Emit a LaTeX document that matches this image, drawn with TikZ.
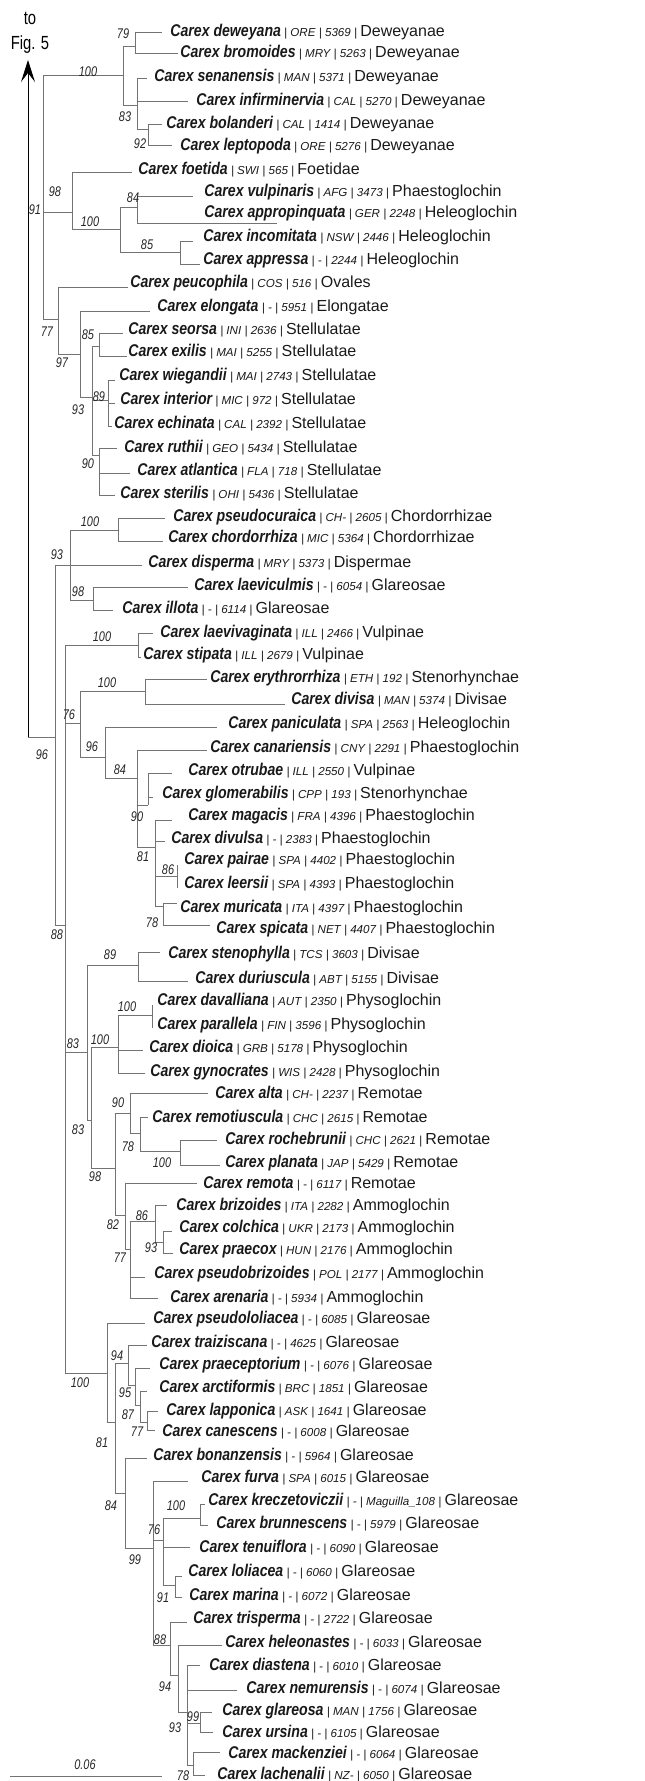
\documentclass[tikz,border=0pt]{standalone}
\usepackage{fontspec}
\setmainfont{Liberation Sans}
\newfontfamily\taxfont[FakeStretch=0.83]{Liberation Sans}
\newfontfamily\supfont[FakeStretch=0.78]{Liberation Sans}
\usetikzlibrary{arrows.meta}
\definecolor{brgray}{gray}{0.45}

\newcommand{\taxon}[4]{{\taxfont\fontsize{8.5}{9}\selectfont\bfseries\itshape Carex #1}{\fontsize{5.8}{6}\selectfont\itshape\ | #2 | #3 |\ }{\fontsize{8}{9}\selectfont #4}}

\tikzset{
  br/.style={draw=brgray, line width=0.5pt},
  tip/.style={anchor=base west, inner sep=0pt, text=black!90},
  bs/.style={font=\supfont\fontsize{7}{8}\selectfont\itshape, inner sep=0pt, text=black!85},
}

\begin{document}
\begin{tikzpicture}[x=0.5pt, y=-0.5pt]
    \useasboundingbox (0,0) rectangle (644,1781);

    % Link to Fig. 5
    \node[align=center, font=\supfont\fontsize{9.5}{12.5}\selectfont] (fig5) at (30,33) {to\\Fig. 5};
    \coordinate (rootbase) at (28,737);
    \coordinate (arrowtip) at (28,60);
    \draw[line width=0.5pt, -{Stealth[length=11pt, width=7pt, inset=4.5pt]}] (rootbase) -- (arrowtip);

    % Horizontal branches: x1/x2/y
    \foreach \a/\b/\y in {
        43/123/76, 123/135/47, 135/162/33, 135/178/54, 123/137/106, 137/147/79, 137/188/102, 137/148/130, 148/162/125, 148/172/146,
        43/72/213, 72/132/173, 72/120/230, 120/137/208, 137/193/197, 137/277/224, 120/180/253, 180/193/242, 180/200/265,
        43/58/320, 58/128/288, 58/80/355, 80/150/312, 80/92/397, 92/99/347, 99/123/334, 99/127/357, 92/108/400,
        108/115/380, 108/115/403, 108/112/426, 92/99/455, 99/117/448, 99/130/473, 99/115/495,
        28/55/737, 55/142/565, 70/118/530, 118/165/518, 118/163/541, 70/93/600, 93/188/587, 93/113/610,
        55/65/925, 65/138/645, 138/153/633, 138/141/657, 65/80/723, 80/145/691, 145/207/679, 145/285/704,
        80/105/757, 105/217/727, 105/137/778, 137/207/750, 137/148/805, 148/172/773, 148/153/797,
        137/155/847, 155/172/820, 155/165/841, 155/177/876, 155/163/906, 163/177/903, 163/210/925,
        65/87/1052, 87/138/965, 138/160/952, 138/188/981, 87/91/1120, 91/118/1047, 118/152/1015, 118/143/1050, 118/145/1073,
        91/115/1168, 115/130/1113, 130/208/1093, 130/140/1133, 140/148/1117, 140/180/1151, 180/217/1140, 180/220/1165,
        115/125/1215, 125/197/1183, 125/130/1249, 130/155/1221, 155/167/1205, 155/163/1242, 163/172/1231, 163/173/1253,
        130/145/1277, 130/158/1298,
        65/107/1373, 107/145/1323, 107/115/1422, 115/128/1363, 128/147/1345, 128/135/1385, 135/150/1368, 135/140/1405,
        140/147/1391, 140/147/1422, 147/158/1411, 147/155/1430, 115/125/1493, 125/147/1458, 125/153/1548, 153/188/1481,
        153/163/1540, 163/200/1518, 200/205/1504, 200/208/1525, 163/190/1547, 163/175/1585, 175/182/1576, 175/182/1597,
        153/170/1645, 170/187/1622, 170/178/1675, 178/222/1645, 178/187/1712, 187/200/1665, 187/237/1690, 187/200/1723,
        200/212/1712, 200/213/1732, 187/193/1765, 193/220/1752, 193/205/1775} {
        \draw[br] (\a,\y) -- (\b,\y);
    }

    % Vertical lines: x/y1/y2
    \foreach \x/\a/\b in {
        43/76/320, 123/47/106, 135/33/54, 137/79/130, 148/125/146,
        72/173/230, 120/208/253, 137/197/224, 180/242/265,
        58/288/355, 80/312/397, 92/347/455, 99/334/357, 108/380/426, 99/448/495,
        55/565/925, 70/530/600, 118/518/541, 93/587/610,
        65/645/1373, 138/633/657, 80/691/757, 145/679/704, 105/727/778, 137/750/847, 148/773/805,
        155/820/906, 177/865/888, 163/903/925,
        87/965/1120, 91/1047/1168, 138/952/981, 118/1015/1073, 152/1005/1028, 115/1113/1215, 130/1093/1133,
        140/1117/1151, 180/1140/1165, 125/1183/1249, 130/1221/1298, 155/1205/1242, 163/1231/1253,
        107/1323/1422, 115/1363/1493, 128/1345/1385, 135/1368/1405, 140/1391/1422, 147/1411/1430, 125/1458/1548,
        153/1481/1645, 163/1518/1585, 200/1505/1525, 175/1576/1597, 170/1622/1675, 178/1645/1712, 187/1665/1765,
        200/1712/1732, 193/1752/1775} {
        \draw[br] (\x,\a) -- (\x,\b);
    }

    % Taxa
    \foreach \nm/\cd/\nu/\se/\x/\y in {
        deweyana/ORE/5369/Deweyanae/170/32, bromoides/MRY/5263/Deweyanae/180/53,
        senanensis/MAN/5371/Deweyanae/154/77, infirminervia/CAL/5270/Deweyanae/196/101,
        bolanderi/CAL/1414/Deweyanae/166/124, leptopoda/ORE/5276/Deweyanae/180/146,
        foetida/SWI/565/Foetidae/138/170, vulpinaris/AFG/3473/Phaestoglochin/204/192,
        appropinquata/GER/2248/Heleoglochin/204/213, incomitata/NSW/2446/Heleoglochin/203/237,
        appressa/-/2244/Heleoglochin/203/260, peucophila/COS/516/Ovales/130/283,
        elongata/-/5951/Elongatae/157/307, seorsa/INI/2636/Stellulatae/128/330,
        exilis/MAI/5255/Stellulatae/128/352, wiegandii/MAI/2743/Stellulatae/119/375,
        interior/MIC/972/Stellulatae/120/399, echinata/CAL/2392/Stellulatae/114/423,
        ruthii/GEO/5434/Stellulatae/124/447, atlantica/FLA/718/Stellulatae/137/470,
        sterilis/OHI/5436/Stellulatae/120/493, pseudocuraica/CH-/2605/Chordorrhizae/173/516,
        chordorrhiza/MIC/5364/Chordorrhizae/168/537, disperma/MRY/5373/Dispermae/148/562,
        laeviculmis/-/6054/Glareosae/194/585, illota/-/6114/Glareosae/122/608,
        laevivaginata/ILL/2466/Vulpinae/160/632, stipata/ILL/2679/Vulpinae/143/654,
        erythrorrhiza/ETH/192/Stenorhynchae/210/677, divisa/MAN/5374/Divisae/291/699,
        paniculata/SPA/2563/Heleoglochin/228/723, canariensis/CNY/2291/Phaestoglochin/210/747,
        otrubae/ILL/2550/Vulpinae/188/770, glomerabilis/CPP/193/Stenorhynchae/162/793,
        magacis/FRA/4396/Phaestoglochin/188/815, divulsa/-/2383/Phaestoglochin/171/838,
        pairae/SPA/4402/Phaestoglochin/184/859, leersii/SPA/4393/Phaestoglochin/184/883,
        muricata/ITA/4397/Phaestoglochin/180/907, spicata/NET/4407/Phaestoglochin/216/928,
        stenophylla/TCS/3603/Divisae/168/953, duriuscula/ABT/5155/Divisae/195/978,
        davalliana/AUT/2350/Physoglochin/157/1000, parallela/FIN/3596/Physoglochin/157/1024,
        dioica/GRB/5178/Physoglochin/149/1047, gynocrates/WIS/2428/Physoglochin/150/1071,
        alta/CH-/2237/Remotae/215/1093, remotiuscula/CHC/2615/Remotae/152/1117,
        rochebrunii/CHC/2621/Remotae/225/1139, planata/JAP/5429/Remotae/225/1162,
        remota/-/6117/Remotae/203/1183, brizoides/ITA/2282/Ammoglochin/176/1205,
        colchica/UKR/2173/Ammoglochin/179/1227, praecox/HUN/2176/Ammoglochin/179/1249,
        pseudobrizoides/POL/2177/Ammoglochin/154/1273, arenaria/-/5934/Ammoglochin/170/1297,
        pseudololiacea/-/6085/Glareosae/153/1318, traiziscana/-/4625/Glareosae/151/1342,
        praeceptorium/-/6076/Glareosae/159/1364, arctiformis/BRC/1851/Glareosae/159/1387,
        lapponica/ASK/1641/Glareosae/166/1410, canescens/-/6008/Glareosae/162/1431,
        bonanzensis/-/5964/Glareosae/153/1455, furva/SPA/6015/Glareosae/201/1477,
        kreczetoviczii/-/Maguilla\_108/Glareosae/208/1500, brunnescens/-/5979/Glareosae/216/1523,
        tenuiflora/-/6090/Glareosae/199/1547, loliacea/-/6060/Glareosae/188/1571,
        marina/-/6072/Glareosae/189/1595, trisperma/-/2722/Glareosae/193/1618,
        heleonastes/-/6033/Glareosae/225/1642, diastena/-/6010/Glareosae/209/1665,
        nemurensis/-/6074/Glareosae/246/1688, glareosa/MAN/1756/Glareosae/222/1710,
        ursina/-/6105/Glareosae/222/1732, mackenziei/-/6064/Glareosae/228/1753,
        lachenalii/NZ-/6050/Glareosae/217/1774} {
        \node[tip] (\nm) at (\x,\y+5) {\taxon{\nm}{\cd}{\nu}{\se}};
    }

    % Support values
    \foreach \v/\x/\y [count=\i] in {
        79/123/34, 100/88/72, 83/125/117, 92/140/144, 98/55/192, 91/35/210, 100/90/222, 84/133/198, 85/147/245,
        77/47/332, 97/62/363, 85/88/335, 89/99/397, 93/78/410, 90/88/464, 100/90/522, 93/57/555, 98/78/592,
        100/102/637, 100/107/683, 76/69/715, 96/42/755, 96/92/747, 84/120/770, 90/137/817, 81/143/857, 86/168/870,
        78/152/923, 88/57/935, 89/110/955, 100/127/1007, 100/100/1040, 83/73/1044, 90/118/1103, 83/78/1130,
        78/128/1147, 100/162/1163, 98/95/1177, 86/142/1216, 82/113/1225, 93/151/1248, 77/120/1258,
        94/117/1356, 100/80/1383, 95/125/1393, 87/128/1415, 77/137/1432, 81/102/1443, 84/111/1506, 100/176/1506,
        76/154/1530, 99/135/1560, 91/163/1598, 88/160/1640, 94/165/1687, 99/193/1717, 93/175/1728, 78/183/1776} {
        \node[bs] (bs\i) at (\x,\y) {\v};
    }

    % Scale bar
    \coordinate (sbl) at (10,1776);
    \coordinate (sbr) at (162,1776);
    \draw[br] (sbl) -- (sbr);
    \node[bs] (sblabel) at (85,1765) {0.06};
\end{tikzpicture}
\end{document}
